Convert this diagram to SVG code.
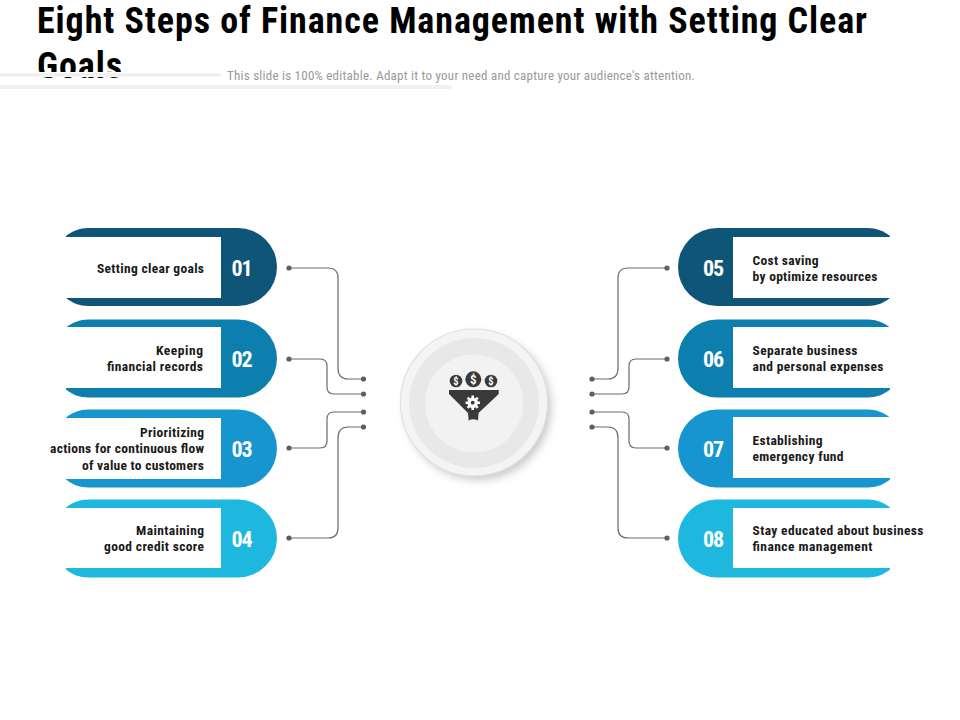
<svg xmlns="http://www.w3.org/2000/svg" width="960" height="720" viewBox="0 0 960 720">
<defs>
<style>
text{font-family:"Liberation Sans Narrow","Roboto Condensed","Roboto","Liberation Sans",sans-serif}
.t{font-size:36px;font-weight:700;fill:#000}
.s{font-size:13px;fill:#999}
.l{font-size:13.500px;font-weight:700;fill:#1a1a1a}
.e{text-anchor:end}
.n{font-size:22px;font-weight:700;fill:#fff;text-anchor:middle}
.c{fill:none;stroke:#6b6b6b;stroke-width:1.2}
.d{fill:#5f5f5f}
.w{fill:#fff}
</style>
<path id="pl" d="M66 8C72 3 80 0 88 0H238A39 39 0 0 1 238 78H88C80 78 72 75 66 70Z"/>
<path id="pr" d="M890 8C884 3 876 0 868 0H717A39 39 0 0 0 717 78H868C876 78 884 75 890 70Z"/>
<filter id="sh" x="-20%" y="-20%" width="140%" height="140%"><feGaussianBlur stdDeviation="4"/></filter>
<filter id="ts" x="-20%" y="-20%" width="140%" height="150%"><feGaussianBlur stdDeviation="1"/></filter>
</defs>
<rect width="960" height="720" fill="#fff"/>
<g id="title">
<text class="t" x="37" y="33" textLength="830">Eight Steps of Finance Management with Setting Clear</text>
<text class="t" x="37" y="78" textLength="85">Goals</text>
<rect x="0" y="72" width="221" height="5" fill="#fff"/>
<rect x="0" y="73" width="221" height="3.500" fill="#f0f0f0"/>
<rect x="0" y="85" width="452" height="4" fill="#f1f1f1"/>
<text class="s" x="227" y="80" textLength="468">This slide is 100% editable. Adapt it to your need and capture your audience's attention.</text>
</g>
<g id="connectors">
<path class="c" d="M289 268H328Q338 268 338 278V368Q338 379 348 379H363"/>
<path class="c" d="M289 359H320Q327 359 327 366V387Q327 394 334 394H363"/>
<path class="c" d="M289 448H320Q327 448 327 441V419Q327 412 334 412H363"/>
<path class="c" d="M289 538H328Q338 538 338 528V438Q338 427 348 427H363"/>
<path class="c" d="M667 268H628Q618 268 618 278V368Q618 379 608 379H592"/>
<path class="c" d="M667 359H636Q629 359 629 366V387Q629 394 622 394H592"/>
<path class="c" d="M667 448H636Q629 448 629 441V419Q629 412 622 412H592"/>
<path class="c" d="M667 538H628Q618 538 618 528V438Q618 427 608 427H592"/>
<g class="d">
<circle cx="289" cy="268" r="2.600"/><circle cx="289" cy="359" r="2.600"/><circle cx="289" cy="448" r="2.600"/><circle cx="289" cy="538" r="2.600"/>
<circle cx="363.500" cy="379" r="2.600"/><circle cx="363.500" cy="394" r="2.600"/><circle cx="363.500" cy="412" r="2.600"/><circle cx="363.500" cy="427" r="2.600"/>
<circle cx="667" cy="268" r="2.600"/><circle cx="667" cy="359" r="2.600"/><circle cx="667" cy="448" r="2.600"/><circle cx="667" cy="538" r="2.600"/>
<circle cx="592" cy="379" r="2.600"/><circle cx="592" cy="394" r="2.600"/><circle cx="592" cy="412" r="2.600"/><circle cx="592" cy="427" r="2.600"/>
</g>
</g>
<g id="node-01"><use href="#pl" y="228" fill="#0f5578"/><rect class="w" x="66" y="237" width="155" height="61"/><text class="n" x="242" y="276" textLength="21">01</text><text class="l e" x="204" y="273" textLength="107">Setting clear goals</text></g>
<g id="node-02"><use href="#pl" y="319.500" fill="#0c7fae"/><rect class="w" x="66" y="327" width="155" height="61"/><text class="n" x="242" y="367" textLength="21">02</text><text class="l e" x="203" y="355" textLength="47">Keeping</text><text class="l e" x="203" y="371" textLength="96">financial records</text></g>
<g id="node-03"><use href="#pl" y="409.500" fill="#1695cf"/><rect class="w" x="66" y="418" width="155" height="61"/><text class="n" x="242" y="457" textLength="21">03</text><text class="l e" x="204" y="437" textLength="64">Prioritizing</text><text class="l e" x="204" y="453" textLength="154">actions for continuous flow</text><text class="l e" x="204" y="470" textLength="122">of value to customers</text></g>
<g id="node-04"><use href="#pl" y="499.500" fill="#1eb8df"/><rect class="w" x="66" y="508" width="155" height="60"/><text class="n" x="242" y="547" textLength="21">04</text><text class="l e" x="204" y="535" textLength="68">Maintaining</text><text class="l e" x="204" y="551" textLength="100">good credit score</text></g>
<g id="node-05"><use href="#pr" y="228" fill="#0f5578"/><rect class="w" x="733" y="237" width="157" height="61"/><text class="n" x="713.500" y="276" textLength="21">05</text><text class="l" x="752.500" y="265" textLength="66">Cost saving</text><text class="l" x="752.500" y="281" textLength="125">by optimize resources</text></g>
<g id="node-06"><use href="#pr" y="319.500" fill="#0c7fae"/><rect class="w" x="733" y="327" width="157" height="61"/><text class="n" x="713.500" y="367" textLength="21">06</text><text class="l" x="752.500" y="355" textLength="105">Separate business</text><text class="l" x="752.500" y="371" textLength="131">and personal expenses</text></g>
<g id="node-07"><use href="#pr" y="409.500" fill="#1695cf"/><rect class="w" x="733" y="417" width="157" height="61"/><text class="n" x="713.500" y="457" textLength="21">07</text><text class="l" x="752.500" y="445" textLength="70">Establishing</text><text class="l" x="752.500" y="461" textLength="91">emergency fund</text></g>
<g id="node-08"><use href="#pr" y="499.500" fill="#1eb8df"/><rect class="w" x="733" y="508" width="157" height="60"/><text class="n" x="713.500" y="547" textLength="21">08</text><text class="l" x="752.500" y="535" textLength="171">Stay educated about business</text><text class="l" x="752.500" y="551" textLength="120">finance management</text></g>
<g id="hub">
<circle cx="478" cy="407" r="73" fill="#c8c8c8" filter="url(#sh)"/>
<circle cx="474" cy="402.500" r="73.500" fill="#f3f5f4" stroke="#dfe2e1" stroke-width="1.200"/>
<circle cx="474" cy="403" r="65" fill="#e9e8e8"/>
<circle cx="474" cy="403.500" r="49" fill="#f2f2f2"/>
<g fill="#3a3a3a">
<circle cx="456" cy="381" r="6.300"/><circle cx="473.300" cy="379.300" r="8"/><circle cx="491" cy="381" r="6.300"/>
<path d="M449 390H498.700V394L478.500 413L478 420.500Q473 418 468.700 420.500L468 413L449 394Z"/>
</g>
<g fill="#fff" font-weight="700" text-anchor="middle" style="font-family:'Liberation Sans',sans-serif">
<text x="456" y="384.800" font-size="10.500">$</text><text x="473.300" y="384" font-size="13">$</text><text x="491" y="384.800" font-size="10.500">$</text>
</g>
<path d="M472.700 395.500V410M465.500 402.700H480M467.600 397.600L477.800 407.800M477.800 397.600L467.600 407.800" stroke="#fff" stroke-width="2.600" fill="none"/>
<circle cx="472.700" cy="402.700" r="5.300" fill="#fff"/>
<circle cx="472.700" cy="402.700" r="1.900" fill="#3a3a3a"/>
</g>
</svg>
